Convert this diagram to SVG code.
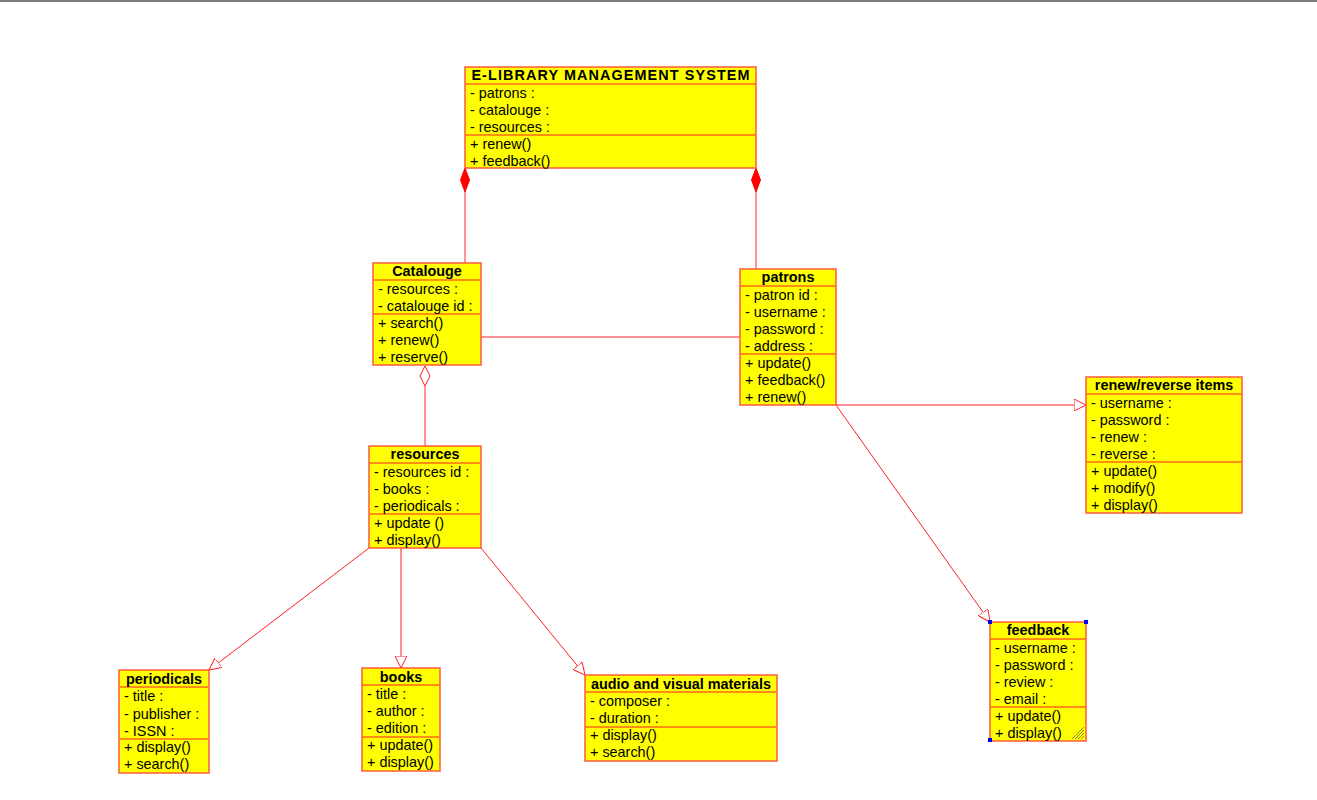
<svg xmlns="http://www.w3.org/2000/svg" width="1317" height="800" viewBox="0 0 1317 800">
  <style>
    .box { fill: #ffff00; stroke: #ff5a3c; stroke-width: 1.5; }
    .sep { stroke: #ff6a1a; stroke-width: 1.5; }
    .t { font-family: "Liberation Sans", Arial, sans-serif; font-size: 14.4px; font-weight: bold; fill: #000; text-anchor: middle; }
    .m { font-family: "Liberation Sans", Arial, sans-serif; font-size: 14.4px; fill: #000; }
    .conn { stroke: #ff2020; stroke-width: 1; fill: none; }
    .vconn { stroke: #ff7070; stroke-width: 1.5; fill: none; }
  </style>
  <defs>
    <marker id="gen" markerWidth="14" markerHeight="12" refX="12" refY="6" orient="auto" markerUnits="userSpaceOnUse">
      <path d="M0,0 L12,6 L0,12 Z" fill="#fff" stroke="#ff2020" stroke-width="1"/>
    </marker>
  </defs>
  <rect width="1317" height="800" fill="#fff"/>
  <line x1="0" y1="1" x2="1317" y2="1" stroke="#7a7a7a" stroke-width="2"/>

  <!-- connectors -->
  <g id="connectors">
    <line class="vconn" x1="465" y1="192" x2="465" y2="263"/>
    <path d="M465,168 L469.5,180 L465,192 L460.5,180 Z" fill="#ff0000" stroke="#ff0000"/>
    <line class="vconn" x1="756" y1="192" x2="756" y2="269"/>
    <path d="M756,168 L760.5,180 L756,192 L751.5,180 Z" fill="#ff0000" stroke="#ff0000"/>
    <line class="conn" x1="481" y1="337" x2="740" y2="337"/>
    <line class="vconn" x1="425" y1="386" x2="425" y2="446"/>
    <path d="M425,366 L430,376 L425,386 L420,376 Z" fill="#fff" stroke="#ff2020" stroke-width="1"/>
    <line class="conn" x1="836" y1="405" x2="1086" y2="405" marker-end="url(#gen)"/>
    <line class="conn" x1="836" y1="405" x2="990" y2="622" marker-end="url(#gen)"/>
    <line class="conn" x1="369" y1="548" x2="209" y2="670" marker-end="url(#gen)"/>
    <line class="conn" x1="401" y1="548" x2="401" y2="668" marker-end="url(#gen)"/>
    <line class="conn" x1="481" y1="548" x2="585" y2="675" marker-end="url(#gen)"/>
  </g>

  <!-- E-LIBRARY MANAGEMENT SYSTEM -->
  <g id="system">
    <rect class="box" x="465" y="67" width="291" height="101"/>
    <line class="sep" x1="465" y1="84" x2="756" y2="84"/>
    <line class="sep" x1="465" y1="135" x2="756" y2="135"/>
    <text class="t" x="611" y="80" letter-spacing="1.1">E-LIBRARY MANAGEMENT SYSTEM</text>
    <text class="m" x="470" y="98">- patrons :</text>
    <text class="m" x="470" y="115">- catalouge :</text>
    <text class="m" x="470" y="132">- resources :</text>
    <text class="m" x="470" y="149">+ renew()</text>
    <text class="m" x="470" y="166">+ feedback()</text>
  </g>

  <!-- Catalouge -->
  <g id="catalouge">
    <rect class="box" x="373" y="263" width="108" height="102"/>
    <line class="sep" x1="373" y1="280" x2="481" y2="280"/>
    <line class="sep" x1="373" y1="314" x2="481" y2="314"/>
    <text class="t" x="427" y="276">Catalouge</text>
    <text class="m" x="378" y="294">- resources :</text>
    <text class="m" x="378" y="311">- catalouge id :</text>
    <text class="m" x="378" y="328">+ search()</text>
    <text class="m" x="378" y="345">+ renew()</text>
    <text class="m" x="378" y="362">+ reserve()</text>
  </g>

  <!-- patrons -->
  <g id="patrons">
    <rect class="box" x="740" y="269" width="96" height="136"/>
    <line class="sep" x1="740" y1="286" x2="836" y2="286"/>
    <line class="sep" x1="740" y1="354" x2="836" y2="354"/>
    <text class="t" x="788" y="282">patrons</text>
    <text class="m" x="745" y="300">- patron id :</text>
    <text class="m" x="745" y="317">- username :</text>
    <text class="m" x="745" y="334">- password :</text>
    <text class="m" x="745" y="351">- address :</text>
    <text class="m" x="745" y="368">+ update()</text>
    <text class="m" x="745" y="385">+ feedback()</text>
    <text class="m" x="745" y="402">+ renew()</text>
  </g>

  <!-- renew/reverse items -->
  <g id="renew-items">
    <rect class="box" x="1086" y="377" width="156" height="136"/>
    <line class="sep" x1="1086" y1="394" x2="1242" y2="394"/>
    <line class="sep" x1="1086" y1="462" x2="1242" y2="462"/>
    <text class="t" x="1164" y="390">renew/reverse items</text>
    <text class="m" x="1091" y="408">- username :</text>
    <text class="m" x="1091" y="425">- password :</text>
    <text class="m" x="1091" y="442">- renew :</text>
    <text class="m" x="1091" y="459">- reverse :</text>
    <text class="m" x="1091" y="476">+ update()</text>
    <text class="m" x="1091" y="493">+ modify()</text>
    <text class="m" x="1091" y="510">+ display()</text>
  </g>

  <!-- feedback -->
  <g id="feedback">
    <rect class="box" x="990" y="622" width="96" height="119"/>
    <line class="sep" x1="990" y1="639" x2="1086" y2="639"/>
    <line class="sep" x1="990" y1="707" x2="1086" y2="707"/>
    <text class="t" x="1038" y="635">feedback</text>
    <text class="m" x="995" y="653">- username :</text>
    <text class="m" x="995" y="670">- password :</text>
    <text class="m" x="995" y="687">- review :</text>
    <text class="m" x="995" y="704">- email :</text>
    <text class="m" x="995" y="721">+ update()</text>
    <text class="m" x="995" y="738">+ display()</text>
    <rect x="988" y="620" width="4" height="4" fill="#0000ff"/>
    <rect x="1084" y="620" width="4" height="4" fill="#0000ff"/>
    <rect x="988" y="738" width="4" height="4" fill="#0000ff"/>
    <path d="M1075,739 L1084,730 M1078,739 L1084,733 M1081,739 L1084,736 M1072,739 L1084,727" stroke="#8a8a30" stroke-width="1"/>
  </g>

  <!-- resources -->
  <g id="resources">
    <rect class="box" x="369" y="446" width="112" height="102"/>
    <line class="sep" x1="369" y1="463" x2="481" y2="463"/>
    <line class="sep" x1="369" y1="514" x2="481" y2="514"/>
    <text class="t" x="425" y="459">resources</text>
    <text class="m" x="374" y="477">- resources id :</text>
    <text class="m" x="374" y="494">- books :</text>
    <text class="m" x="374" y="511">- periodicals :</text>
    <text class="m" x="374" y="528">+ update ()</text>
    <text class="m" x="374" y="545">+ display()</text>
  </g>

  <!-- periodicals -->
  <g id="periodicals">
    <rect class="box" x="119" y="670" width="90" height="103"/>
    <line class="sep" x1="119" y1="687" x2="209" y2="687"/>
    <line class="sep" x1="119" y1="739" x2="209" y2="739"/>
    <text class="t" x="164" y="684">periodicals</text>
    <text class="m" x="124" y="701">- title :</text>
    <text class="m" x="124" y="719">- publisher :</text>
    <text class="m" x="124" y="736">- ISSN :</text>
    <text class="m" x="124" y="752">+ display()</text>
    <text class="m" x="124" y="769">+ search()</text>
  </g>

  <!-- books -->
  <g id="books">
    <rect class="box" x="362" y="668" width="78" height="103"/>
    <line class="sep" x1="362" y1="685" x2="440" y2="685"/>
    <line class="sep" x1="362" y1="737" x2="440" y2="737"/>
    <text class="t" x="401" y="682">books</text>
    <text class="m" x="367" y="699">- title :</text>
    <text class="m" x="367" y="716">- author :</text>
    <text class="m" x="367" y="733">- edition :</text>
    <text class="m" x="367" y="750">+ update()</text>
    <text class="m" x="367" y="767">+ display()</text>
  </g>

  <!-- audio and visual materials -->
  <g id="audio-visual">
    <rect class="box" x="585" y="675" width="192" height="86"/>
    <line class="sep" x1="585" y1="692" x2="777" y2="692"/>
    <line class="sep" x1="585" y1="727" x2="777" y2="727"/>
    <text class="t" x="681" y="689">audio and visual materials</text>
    <text class="m" x="590" y="706">- composer :</text>
    <text class="m" x="590" y="723">- duration :</text>
    <text class="m" x="590" y="740">+ display()</text>
    <text class="m" x="590" y="757">+ search()</text>
  </g>
</svg>
